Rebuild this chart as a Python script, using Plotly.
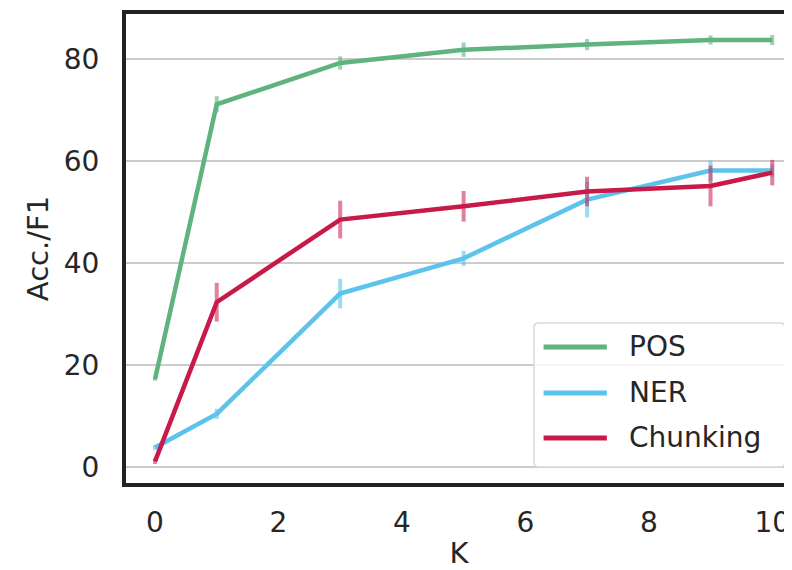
import plotly.graph_objects as go

K = [0, 1, 3, 5, 7, 9, 10]
pos = [17.2, 71.1, 79.2, 81.8, 82.8, 83.7, 83.7]
pos_err = [0.3, 1.6, 1.3, 1.4, 1.1, 0.9, 1.0]
ner = [3.8, 10.4, 34.0, 40.9, 52.4, 58.1, 58.1]
ner_err = [0.5, 1.0, 2.9, 1.5, 3.5, 2.0, 1.2]
chunk = [1.1, 32.3, 48.5, 51.1, 54.0, 55.1, 57.7]
chunk_err = [0.5, 3.8, 3.7, 3.0, 2.9, 4.0, 2.5]

x_ticks = [0, 2, 4, 6, 8, 10]
y_ticks = [0, 20, 40, 60, 80]

names = ["POS", "NER", "Chunking"]
values = [pos, ner, chunk]
errors = [pos_err, ner_err, chunk_err]
colors = ["#5fb37f", "#5bc3ec", "#c81a48"]
err_colors = ["rgba(95,179,127,0.6)", "rgba(91,195,236,0.6)", "rgba(200,26,72,0.55)"]

fig = go.Figure()
for name, vals, errs, col, ecol in zip(names, values, errors, colors, err_colors):
    fig.add_trace(go.Scatter(
        x=K, y=vals, name=name, mode="lines",
        line=dict(color=col, width=4.5),
        error_y=dict(type="data", array=errs, visible=True,
                     color=ecol, thickness=4, width=0),
        showlegend=False,
    ))

# custom legend (matplotlib-like: long line samples, rounded translucent box)
bx0, bx1, by0, by1 = 0.6126, 0.9895, 0.034, 0.341
rx, ry = 0.007, 0.010
box_path = (f"M{bx0+rx},{by0} L{bx1-rx},{by0} Q{bx1},{by0} {bx1},{by0+ry} "
            f"L{bx1},{by1-ry} Q{bx1},{by1} {bx1-rx},{by1} L{bx0+rx},{by1} "
            f"Q{bx0},{by1} {bx0},{by1-ry} L{bx0},{by0+ry} Q{bx0},{by0} {bx0+rx},{by0} Z")
shapes = [dict(type="path", xref="paper", yref="paper", path=box_path,
               fillcolor="rgba(255,255,255,0.8)", line=dict(color="#d9d9d9", width=1.5),
               layer="above")]
annotations = []
row_y = [0.290, 0.192, 0.096]
for name, col, yy in zip(names, colors, row_y):
    shapes.append(dict(type="line", xref="paper", yref="paper",
                       x0=0.627, x1=0.722, y0=yy, y1=yy,
                       line=dict(color=col, width=5), layer="above"))
    annotations.append(dict(xref="paper", yref="paper", x=0.752, y=yy,
                            xanchor="left", yanchor="middle", text=name,
                            showarrow=False, font=dict(size=28, color="#262626")))

font_col = "#262626"
fig.update_layout(
    width=784, height=562,
    margin=dict(l=118, r=0, t=6, b=87),
    paper_bgcolor="white", plot_bgcolor="white",
    font=dict(family="DejaVu Sans", size=28, color=font_col),
    showlegend=False,
    shapes=shapes, annotations=annotations,
    xaxis=dict(
        range=[-0.47, 10.32], tickvals=x_ticks,
        showgrid=False, zeroline=False,
        showline=True, linecolor="#222222", linewidth=4, mirror=True,
        ticks="", ticklabelstandoff=11,
        title=dict(text="K", font=dict(size=29), standoff=10),
    ),
    yaxis=dict(
        range=[-3.14, 88.8], tickvals=y_ticks,
        showgrid=True, gridcolor="#cccccc", gridwidth=2, zeroline=False,
        showline=True, linecolor="#222222", linewidth=4, mirror=False,
        ticks="", ticklabelstandoff=17,
        title=dict(text="Acc./F1", font=dict(size=29), standoff=8),
    ),
)

fig.write_html("out.html")
